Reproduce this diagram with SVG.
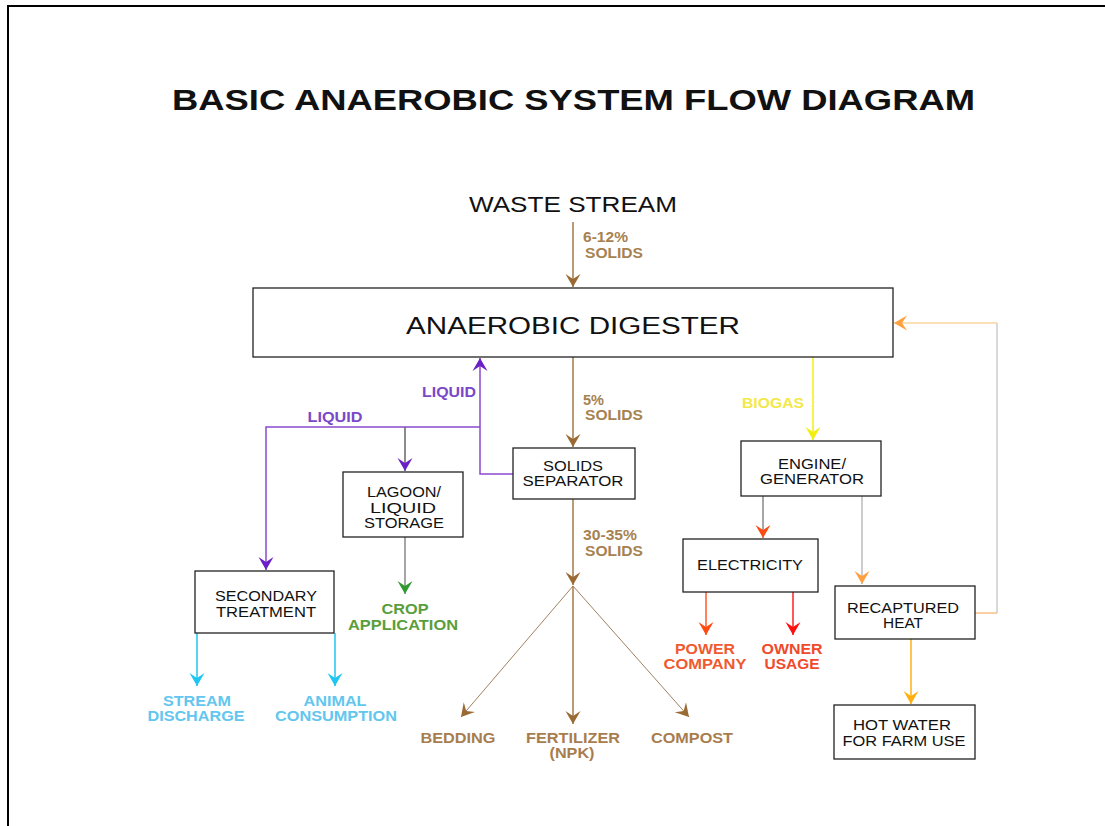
<svg xmlns="http://www.w3.org/2000/svg" width="1105" height="826" viewBox="0 0 1105 826">
<style>
  .box { fill: #ffffff; stroke: #222222; stroke-width: 1.3; }
  .bt { font-family: "Liberation Sans", Arial, sans-serif; font-size: 14px; fill: #111111; text-anchor: middle; }
  .lb { font-family: "Liberation Sans", Arial, sans-serif; font-size: 14px; font-weight: bold; text-anchor: middle; }
  .ll { font-family: "Liberation Sans", Arial, sans-serif; font-size: 14px; font-weight: bold; text-anchor: start; fill: #a68250; }
  .ln { fill: none; stroke-width: 1.5; }
</style>
<defs>
  <marker id="m-brown" viewBox="0 0 13 16" refX="13" refY="8" markerWidth="13" markerHeight="16" markerUnits="userSpaceOnUse" orient="auto"><path d="M0,0.5 L13,8 L0,15.5 L5,8 Z" fill="#9a6a35"/></marker>
  <marker id="m-purple" viewBox="0 0 13 16" refX="13" refY="8" markerWidth="13" markerHeight="16" markerUnits="userSpaceOnUse" orient="auto"><path d="M0,0.5 L13,8 L0,15.5 L5,8 Z" fill="#6a1fc8"/></marker>
  <marker id="m-cyan" viewBox="0 0 13 16" refX="13" refY="8" markerWidth="13" markerHeight="16" markerUnits="userSpaceOnUse" orient="auto"><path d="M0,0.5 L13,8 L0,15.5 L5,8 Z" fill="#1ec6f0"/></marker>
  <marker id="m-green" viewBox="0 0 13 16" refX="13" refY="8" markerWidth="13" markerHeight="16" markerUnits="userSpaceOnUse" orient="auto"><path d="M0,0.5 L13,8 L0,15.5 L5,8 Z" fill="#2e9a30"/></marker>
  <marker id="m-yellow" viewBox="0 0 13 16" refX="13" refY="8" markerWidth="13" markerHeight="16" markerUnits="userSpaceOnUse" orient="auto"><path d="M0,0.5 L13,8 L0,15.5 L5,8 Z" fill="#f2ee10"/></marker>
  <marker id="m-orred" viewBox="0 0 13 16" refX="13" refY="8" markerWidth="13" markerHeight="16" markerUnits="userSpaceOnUse" orient="auto"><path d="M0,0.5 L13,8 L0,15.5 L5,8 Z" fill="#ff4a12"/></marker>
  <marker id="m-red" viewBox="0 0 13 16" refX="13" refY="8" markerWidth="13" markerHeight="16" markerUnits="userSpaceOnUse" orient="auto"><path d="M0,0.5 L13,8 L0,15.5 L5,8 Z" fill="#ff1010"/></marker>
  <marker id="m-orange" viewBox="0 0 13 16" refX="13" refY="8" markerWidth="13" markerHeight="16" markerUnits="userSpaceOnUse" orient="auto"><path d="M0,0.5 L13,8 L0,15.5 L5,8 Z" fill="#ffa040"/></marker>
  <marker id="m-amber" viewBox="0 0 13 16" refX="13" refY="8" markerWidth="13" markerHeight="16" markerUnits="userSpaceOnUse" orient="auto"><path d="M0,0.5 L13,8 L0,15.5 L5,8 Z" fill="#ffb010"/></marker>
</defs>
<rect width="1105" height="826" fill="#ffffff"/>
<rect x="8" y="6" width="1200" height="1000" fill="none" stroke="#000000" stroke-width="2"/>

<text x="573.5" y="110" font-family="'Liberation Sans', Arial, sans-serif" font-size="29" font-weight="bold" text-anchor="middle" fill="#111111" textLength="803" lengthAdjust="spacingAndGlyphs">BASIC ANAEROBIC SYSTEM FLOW DIAGRAM</text>

<g id="connectors">
  <path class="ln" d="M573,222 V287" stroke="#a57a45" marker-end="url(#m-brown)"/>
  <path class="ln" d="M573,357 V447" stroke="#a57a45" marker-end="url(#m-brown)"/>
  <path class="ln" d="M573,499 V585" stroke="#a57a45" marker-end="url(#m-brown)"/>
  <path d="M573,586 L461,717" fill="none" stroke="#a08060" stroke-width="1" marker-end="url(#m-brown)"/>
  <path class="ln" d="M573,586 V724" stroke="#a57a45" marker-end="url(#m-brown)"/>
  <path d="M573,586 L689,717" fill="none" stroke="#a08060" stroke-width="1" marker-end="url(#m-brown)"/>
  <path class="ln" d="M513,474 H480 V358" stroke="#8a4ad0" marker-end="url(#m-purple)"/>
  <path class="ln" d="M480,427 H266 V570" stroke="#8a4ad0" marker-end="url(#m-purple)"/>
  <path class="ln" d="M405,427 V471" stroke="#666666" marker-end="url(#m-purple)"/>
  <path class="ln" d="M405,537 V594" stroke="#888888" marker-end="url(#m-green)"/>
  <path class="ln" d="M197,633 V686" stroke="#1ec6f0" marker-end="url(#m-cyan)"/>
  <path class="ln" d="M335,633 V686" stroke="#1ec6f0" marker-end="url(#m-cyan)"/>
  <path class="ln" d="M813,357 V440" stroke="#f2ee10" marker-end="url(#m-yellow)"/>
  <path class="ln" d="M763,496 V538" stroke="#888888" marker-end="url(#m-orred)"/>
  <path class="ln" d="M862,496 V584" stroke="#bbbbbb" marker-end="url(#m-orange)"/>
  <path class="ln" d="M706,592 V635" stroke="#ff5a2a" marker-end="url(#m-orred)"/>
  <path class="ln" d="M793,592 V635" stroke="#ff2020" marker-end="url(#m-red)"/>
  <path class="ln" d="M911,639 V704" stroke="#ffb010" marker-end="url(#m-amber)"/>
  <path d="M975,613 H997" fill="none" stroke="#f8b060" stroke-width="1.2"/>
  <path d="M997,613 V323" fill="none" stroke="#c0c0c0" stroke-width="1.2"/>
  <path d="M997,323 H894" fill="none" stroke="#f8c070" stroke-width="1.2" marker-end="url(#m-orange)"/>
</g>

<g id="waste-stream">
  <text x="573" y="212" font-family="'Liberation Sans', Arial, sans-serif" font-size="22" text-anchor="middle" fill="#111111" textLength="208" lengthAdjust="spacingAndGlyphs">WASTE STREAM</text>
</g>

<g id="label-6-12">
  <text class="ll" x="583" y="242" textLength="45" lengthAdjust="spacingAndGlyphs">6-12%</text>
  <text class="ll" x="585" y="258" textLength="58" lengthAdjust="spacingAndGlyphs">SOLIDS</text>
</g>

<g id="digester">
  <rect class="box" x="253" y="288" width="640" height="69"/>
  <text x="573" y="334" font-family="'Liberation Sans', Arial, sans-serif" font-size="23" text-anchor="middle" fill="#111111" textLength="334" lengthAdjust="spacingAndGlyphs">ANAEROBIC DIGESTER</text>
</g>

<g id="label-5">
  <text class="ll" x="583" y="405" textLength="21" lengthAdjust="spacingAndGlyphs">5%</text>
  <text class="ll" x="585" y="420" textLength="58" lengthAdjust="spacingAndGlyphs">SOLIDS</text>
</g>

<g id="label-30-35">
  <text class="ll" x="583" y="540" textLength="54" lengthAdjust="spacingAndGlyphs">30-35%</text>
  <text class="ll" x="585" y="556" textLength="58" lengthAdjust="spacingAndGlyphs">SOLIDS</text>
</g>

<g id="liquid-labels">
  <text class="lb" x="449" y="397" fill="#7a48c8" textLength="54" lengthAdjust="spacingAndGlyphs">LIQUID</text>
  <text class="lb" x="335" y="422" fill="#7a48c8" textLength="55" lengthAdjust="spacingAndGlyphs">LIQUID</text>
</g>

<g id="solids-separator">
  <rect class="box" x="513" y="448" width="122" height="51"/>
  <text class="bt" x="573" y="471" textLength="60" lengthAdjust="spacingAndGlyphs">SOLIDS</text>
  <text class="bt" x="573" y="486" textLength="101" lengthAdjust="spacingAndGlyphs">SEPARATOR</text>
</g>

<g id="lagoon">
  <rect class="box" x="343" y="472" width="120" height="65"/>
  <text class="bt" x="404" y="497" textLength="74" lengthAdjust="spacingAndGlyphs">LAGOON/</text>
  <text class="bt" x="403" y="513" textLength="66" lengthAdjust="spacingAndGlyphs">LIQUID</text>
  <text class="bt" x="404" y="528" textLength="80" lengthAdjust="spacingAndGlyphs">STORAGE</text>
</g>

<g id="crop-application">
  <text class="lb" x="405" y="614" fill="#5a9e3c" textLength="47" lengthAdjust="spacingAndGlyphs">CROP</text>
  <text class="lb" x="403" y="630" fill="#5a9e3c" textLength="110" lengthAdjust="spacingAndGlyphs">APPLICATION</text>
</g>

<g id="secondary-treatment">
  <rect class="box" x="195" y="571" width="139" height="62"/>
  <text class="bt" x="266" y="601" textLength="102" lengthAdjust="spacingAndGlyphs">SECONDARY</text>
  <text class="bt" x="266" y="617" textLength="100" lengthAdjust="spacingAndGlyphs">TREATMENT</text>
</g>

<g id="stream-discharge">
  <text class="lb" x="197" y="706" fill="#62c6ee" textLength="68" lengthAdjust="spacingAndGlyphs">STREAM</text>
  <text class="lb" x="196" y="721" fill="#62c6ee" textLength="97" lengthAdjust="spacingAndGlyphs">DISCHARGE</text>
</g>

<g id="animal-consumption">
  <text class="lb" x="335" y="706" fill="#62c6ee" textLength="63" lengthAdjust="spacingAndGlyphs">ANIMAL</text>
  <text class="lb" x="336" y="721" fill="#62c6ee" textLength="122" lengthAdjust="spacingAndGlyphs">CONSUMPTION</text>
</g>

<g id="bedding">
  <text class="lb" x="458" y="743" fill="#a87d4e" textLength="75" lengthAdjust="spacingAndGlyphs">BEDDING</text>
</g>
<g id="fertilizer">
  <text class="lb" x="573" y="743" fill="#a87d4e" textLength="94" lengthAdjust="spacingAndGlyphs">FERTILIZER</text>
  <text class="lb" x="572" y="758" fill="#a87d4e" textLength="45" lengthAdjust="spacingAndGlyphs">(NPK)</text>
</g>
<g id="compost">
  <text class="lb" x="692" y="743" fill="#a87d4e" textLength="82" lengthAdjust="spacingAndGlyphs">COMPOST</text>
</g>

<g id="biogas-label">
  <text class="lb" x="773" y="408" fill="#f2e84a" textLength="62" lengthAdjust="spacingAndGlyphs">BIOGAS</text>
</g>

<g id="engine-generator">
  <rect class="box" x="741" y="441" width="140" height="55"/>
  <text class="bt" x="812" y="469" textLength="68" lengthAdjust="spacingAndGlyphs">ENGINE/</text>
  <text class="bt" x="812" y="484" textLength="104" lengthAdjust="spacingAndGlyphs">GENERATOR</text>
</g>

<g id="electricity">
  <rect class="box" x="683" y="539" width="135" height="53"/>
  <text class="bt" x="750" y="570" textLength="106" lengthAdjust="spacingAndGlyphs">ELECTRICITY</text>
</g>

<g id="power-company">
  <text class="lb" x="705" y="654" fill="#f05a30" textLength="60" lengthAdjust="spacingAndGlyphs">POWER</text>
  <text class="lb" x="705" y="669" fill="#f05a30" textLength="83" lengthAdjust="spacingAndGlyphs">COMPANY</text>
</g>

<g id="owner-usage">
  <text class="lb" x="792" y="654" fill="#f04a2a" textLength="61" lengthAdjust="spacingAndGlyphs">OWNER</text>
  <text class="lb" x="792" y="669" fill="#f04a2a" textLength="55" lengthAdjust="spacingAndGlyphs">USAGE</text>
</g>

<g id="recaptured-heat">
  <rect class="box" x="835" y="586" width="140" height="53"/>
  <text class="bt" x="903" y="613" textLength="112" lengthAdjust="spacingAndGlyphs">RECAPTURED</text>
  <text class="bt" x="903" y="628" textLength="40" lengthAdjust="spacingAndGlyphs">HEAT</text>
</g>

<g id="hot-water">
  <rect class="box" x="834" y="705" width="141" height="54"/>
  <text class="bt" x="902" y="730" textLength="98" lengthAdjust="spacingAndGlyphs">HOT WATER</text>
  <text class="bt" x="904" y="746" textLength="123" lengthAdjust="spacingAndGlyphs">FOR FARM USE</text>
</g>
</svg>
